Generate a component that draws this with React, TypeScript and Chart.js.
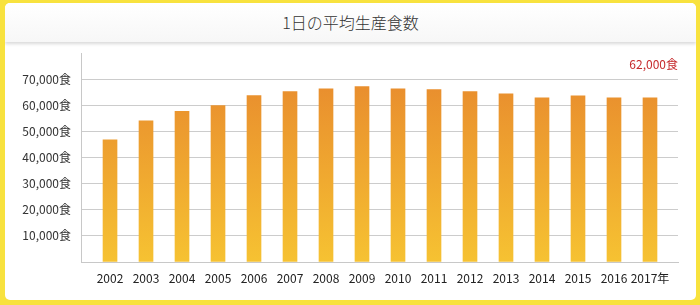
import React, { useEffect, useRef } from "react";
import { Chart, registerables } from "chart.js";

Chart.register(...registerables);

const years = [2002, 2003, 2004, 2005, 2006, 2007, 2008, 2009, 2010, 2011, 2012, 2013, 2014, 2015, 2016, 2017];
const meals = [46800, 54000, 57700, 59900, 63700, 65200, 66300, 67100, 66300, 66000, 65200, 64400, 62800, 63600, 62800, 62800];
const yMin = 0;
const yMax = 80000;
const yStep = 10000;
const titleText = "1日の平均生産食数";
const noteText = "62,000食";
const mealUnit = "食";
const yearUnit = "年";

const FONT = '"Noto Sans CJK JP", "Noto Sans", sans-serif';

export default function App() {
  const canvasRef = useRef<HTMLCanvasElement | null>(null);

  useEffect(() => {
    const canvas = canvasRef.current;
    if (!canvas) return;
    const lastYear = years[years.length - 1];

    const notePlugin = {
      id: "notePlugin",
      afterDraw(chart: any) {
        const { ctx, chartArea } = chart;
        ctx.save();
        ctx.font = `12px ${FONT}`;
        ctx.fillStyle = "#c62a2c";
        ctx.textAlign = "right";
        ctx.textBaseline = "middle";
        ctx.fillText(noteText, chartArea.right, chartArea.top + 11);
        ctx.restore();
      },
    };

    const chart = new Chart(canvas, {
      type: "bar",
      data: {
        datasets: [
          {
            data: years.map((y, i) => ({ x: y, y: meals[i] })),
            barThickness: 14,
            borderWidth: 0,
            backgroundColor: (ctx: any) => {
              const area = ctx.chart.chartArea;
              if (!area) return "#eea030";
              const g = ctx.chart.ctx.createLinearGradient(0, area.top + 35, 0, area.bottom);
              g.addColorStop(0, "#e98f2e");
              g.addColorStop(1, "#f6c232");
              return g;
            },
          },
        ],
      },
      options: {
        animation: false,
        responsive: false,
        maintainAspectRatio: false,
        layout: { padding: { top: 53, right: 22, left: 0, bottom: 0 } },
        plugins: {
          legend: { display: false },
          tooltip: { enabled: false },
          title: { display: false },
        },
        scales: {
          x: {
            type: "linear",
            offset: false,
            min: years[0] - 0.806,
            max: lastYear + 0.778,
            grid: { display: false, drawTicks: false, offset: false },
            border: { display: true, color: "#c8c8c8", width: 1 },
            afterFit: (scale: any) => {
              scale.height = 43;
            },
            ticks: {
              stepSize: 1,
              includeBounds: false,
              autoSkip: false,
              maxRotation: 0,
              padding: 9,
              color: "#222",
              font: { family: FONT, size: 12 },
              callback: (v: any) => (Number(v) === lastYear ? `${v}${yearUnit}` : String(v)),
            },
          },
          y: {
            min: yMin,
            max: yMax,
            afterFit: (scale: any) => {
              scale.width = 81;
            },
            grid: {
              drawTicks: false,
              color: (ctx: any) => (ctx.tick && ctx.tick.value === yMax ? "rgba(0,0,0,0)" : "#cccccc"),
            },
            border: { display: true, color: "#c8c8c8", width: 1 },
            ticks: {
              stepSize: yStep,
              padding: 10,
              color: "#333",
              font: { family: FONT, size: 12 },
              callback: (v: any) => {
                const n = Number(v);
                if (n === yMin || n === yMax) return "";
                return n.toLocaleString("en-US") + mealUnit;
              },
            },
          },
        },
      },
      plugins: [notePlugin],
    } as any);

    return () => chart.destroy();
  }, []);

  return (
    <div
      style={{
        position: "fixed",
        left: 0,
        top: 0,
        width: 700,
        height: 305,
        background: "#f8e23e",
        overflow: "hidden",
      }}
    >
      <div
        style={{
          position: "absolute",
          left: 5,
          top: 3,
          right: 4,
          bottom: 5,
          background: "#ffffff",
          borderRadius: 5,
          overflow: "hidden",
        }}
      >
        <div
          style={{
            position: "absolute",
            left: 0,
            top: 0,
            right: 0,
            height: 39,
            background: "linear-gradient(#ffffff, #f7f7f7)",
            boxShadow: "0 2px 3px rgba(0,0,0,0.15)",
            textAlign: "center",
            lineHeight: "39px",
            fontFamily: FONT,
            fontSize: 16,
            color: "#333",
            fontWeight: 300,
          }}
        >
          {titleText}
        </div>
      </div>
      <canvas
        ref={canvasRef}
        width={700}
        height={305}
        style={{ position: "absolute", left: 0, top: 0, width: 700, height: 305 }}
      />
    </div>
  );
}
